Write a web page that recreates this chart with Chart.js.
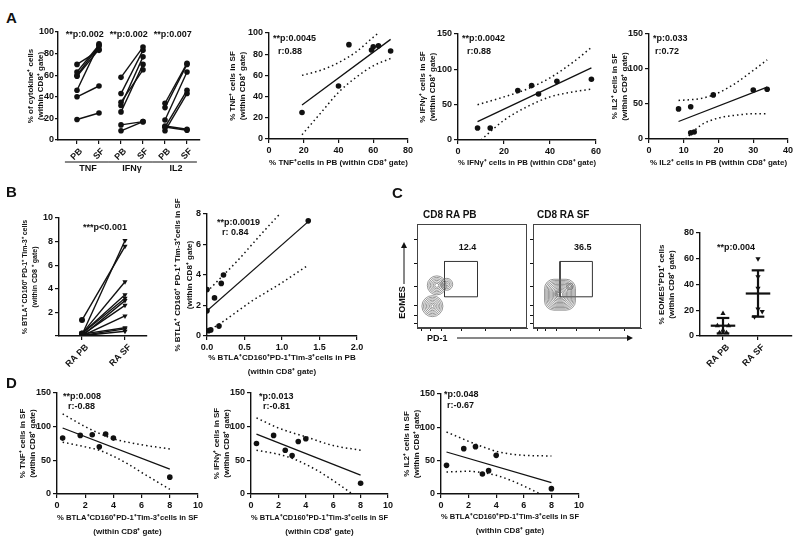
<!DOCTYPE html>
<html>
<head>
<meta charset="utf-8">
<script src="https://cdn.jsdelivr.net/npm/chart.js@4.4.1/dist/chart.umd.min.js"></script>
<style>
  body { margin: 0; background: #fff; width: 800px; height: 545px; position: relative; overflow: hidden;
         font-family: "Liberation Sans", Arial, sans-serif; color: #111; }
  canvas { position: absolute; }
  .t { position: absolute; font-weight: bold; white-space: nowrap; line-height: 1; }
  .big { font-size: 15px; }
  svg { position: absolute; left: 0; top: 0; }
</style>
</head>
<body>
<canvas id="a1"></canvas><canvas id="a2"></canvas><canvas id="a3"></canvas><canvas id="a4"></canvas>
<canvas id="b1"></canvas><canvas id="b2"></canvas>
<canvas id="c1"></canvas><canvas id="c2"></canvas><canvas id="c3"></canvas>
<canvas id="d1"></canvas><canvas id="d2"></canvas><canvas id="d3"></canvas>

<div class="t big" style="left:6px;top:10px">A</div>
<div class="t big" style="left:6px;top:184px">B</div>
<div class="t big" style="left:392px;top:185px">C</div>
<div class="t big" style="left:6px;top:375px">D</div>
<div class="t" style="left:423px;top:210px;font-size:10px">CD8 RA PB</div>
<div class="t" style="left:537px;top:210px;font-size:10px">CD8 RA SF</div>
<div class="t" style="left:427px;top:334px;font-size:9px">PD-1</div>
<div class="t" style="left:386px;top:298px;font-size:9px;transform:rotate(-90deg)">EOMES</div>
<svg width="800" height="545">
  <line x1="404" y1="284" x2="404" y2="247" stroke="#111" stroke-width="1"/>
  <polygon points="401,248 407,248 404,242" fill="#111"/>
  <line x1="457" y1="338" x2="628" y2="338" stroke="#111" stroke-width="1"/>
  <polygon points="627,335 627,341 633,338" fill="#111"/>
</svg>

<script>
// ---------- A: cytokines, PB vs SF (paired) ----------
const tnfPB = [70, 63, 60, 59, 46, 40, 19];
const tnfSF = [83, 88, 87, 84, 89, 50, 25];
const ifnPB = [58, 43, 35, 32, 26, 14, 8.5];
const ifnSF = [86, 83, 65, 77, 70, 17, 17];
const il2PB = [34, 30, 18.5, 13, 12, 12, 8.5];
const il2SF = [71, 70, 63, 10, 9, 46, 43];
const pairTicks = ["PB", "SF", "PB", "SF", "PB", "SF"];
const cytokines = ["TNF", "IFNγ", "IL2"];
const pairP = ["**p:0.002", "**p:0.002", "**p:0.007"];

// regression line and 95% band
const tnfFit = [[19, 32], [70, 94]];
const tnfUp = [[19, 60], [30, 65], [40, 72], [50, 82], [60, 96], [63, 100]];
const tnfLo = [[19, 4], [30, 25], [40, 44], [50, 58], [60, 69], [70, 76]];
const ifnFit = [[8.5, 26], [58, 102]];
const ifnUp = [[8.5, 50], [20, 61], [30, 72], [40, 88], [50, 110], [58, 131]];
const ifnLo = [[10, 0], [20, 28], [30, 47], [40, 61], [50, 68], [58, 72]];
const il2Fit = [[8.5, 25], [34, 74]];
const il2Up = [[8.5, 55], [15, 58], [20, 66], [25, 80], [30, 98], [34, 113]];
const il2Lo = [[10.5, 0], [15, 20], [20, 30], [25, 34], [30, 36], [34, 36]];

// ---------- B: BTLA+CD160+PD-1+Tim-3+ ----------
const btlaPB = [1.35, 0.1, 0.2, 0.22, 0.19, 0.0, 0.1, 0.0, 0.16, 0.05, 0.02];
const btlaSF = [7.6, 8.1, 4.6, 3.5, 3.2, 3.0, 2.6, 1.7, 0.7, 0.6, 0.4];
const raTicks = ["RA PB", "RA SF"];
const corrPB = [0.0, 0.0, 0.02, 0.05, 0.1, 0.16, 0.19, 0.22, 1.35];
const corrSF = [3.05, 1.65, 0.35, 0.4, 2.5, 0.65, 3.45, 4.0, 7.55];
const btlaFit = [[0, 1.65], [1.35, 7.5]];
const btlaUp = [[0, 2.9], [0.2, 3.9], [0.4, 4.9], [0.6, 6.0], [0.8, 7.1], [0.97, 8.0]];
const btlaLo = [[0, 0.3], [0.2, 0.9], [0.4, 1.6], [0.6, 2.3], [0.8, 2.9], [1.0, 3.5], [1.35, 4.65]];

// ---------- C: EOMES+PD1+ ----------
const eomesPB = [17.5, 8, 8, 4.5, 2.5, 2.5];
const eomesPBx = [0, -0.16, 0.16, 0, -0.1, 0.1];
const eomesSF = [60, 46, 37, 21, 19, 15];
const eomesSFx = [0, 0, 0, 0, 0.12, -0.1];
const eomesMean = [8, 33];
const eomesSD = [6, 18];
const gatePB = 12.4, gateSF = 36.5;
const gateBox = [[25, 30], [55, 30], [55, 64], [25, 64], [25, 30]];
// contour rings of the flow plots: centre (display units 0-100) and radius
const pbRingX = [14, 14, 14, 14, 14, 14, 14, 18, 18, 18, 18, 18, 18, 27, 27, 27, 27];
const pbRingY = [21, 21, 21, 21, 21, 21, 21, 41, 41, 41, 41, 41, 41, 42, 42, 42, 42];
const pbRingR = [1.5, 3, 4.5, 6, 7.5, 9, 10.5, 2, 3.5, 5, 6.5, 8, 9.5, 1.5, 3, 4.5, 6];
const sfRingX = [25, 25, 25, 25, 25, 25, 25, 25, 25, 25, 25, 23, 23, 34, 34];
const sfRingY = [32, 32, 32, 32, 32, 32, 32, 32, 32, 32, 32, 33, 33, 40, 40];
const sfRingR = [3, 4.5, 6, 7.5, 9, 10.5, 12, 13.5, 15, 16.5, 18, 1.5, 3, 2, 3.5];
const flowTicks = [4, 12, 22, 40, 62, 85];

// ---------- D: correlations with BTLA+... in SF ----------
const dX = [0.4, 1.65, 2.5, 3.0, 3.45, 4.0, 8.0];
const dTNF = [83, 87, 88, 70, 89, 83, 25];
const dIFN = [75, 87, 65, 57, 78, 82, 16];
const dIL2 = [43, 68, 71, 30, 35, 58, 8];
const dTnfFit = [[0.4, 98], [8, 37]];
const dTnfUp = [[0.4, 119], [2, 100], [3, 90], [4, 82], [5, 77], [6, 73], [8, 67]];
const dTnfLo = [[0.4, 77], [2, 70], [3, 65], [4, 56], [5, 45], [6, 32], [8, 7]];
const dIfnFit = [[0.4, 89], [8, 28]];
const dIfnUp = [[0.4, 113], [2, 98], [3, 91], [4, 85], [5, 78], [6, 72], [8, 65]];
const dIfnLo = [[0.4, 65], [2, 59], [3, 53], [4, 44], [5, 33], [6, 20], [7.4, 0]];
const dIl2Fit = [[0.4, 63], [8, 17]];
const dIl2Up = [[0.4, 93], [2, 79], [3, 71], [4, 64], [5, 60], [6, 58], [8, 57]];
const dIl2Lo = [[0.4, 33], [2, 34], [3, 32], [4, 28], [5, 21], [6, 12], [7.2, 0]];

const FONT = '"Liberation Sans", Arial, sans-serif';
Chart.defaults.font.family = FONT;
Chart.defaults.font.size = 9;
Chart.defaults.font.weight = 'bold';
Chart.defaults.color = '#111';
Chart.defaults.animation = false;
Chart.defaults.plugins.legend.display = false;
Chart.defaults.plugins.tooltip.enabled = false;

// text / rules / frame drawn on top of a chart
Chart.register({
  id: 'notes',
  afterDraw(chart, args, opts) {
    const { ctx, chartArea: a, scales } = chart;
    ctx.save();
    (opts.items || []).forEach(it => {
      const Y = it.y != null ? scales.y.getPixelForValue(it.y) : (it.below ? a.bottom : a.top) + (it.py || 0);
      if (it.line) {
        ctx.strokeStyle = '#111'; ctx.lineWidth = 1;
        ctx.beginPath();
        ctx.moveTo(scales.x.getPixelForValue(it.line[0]), Y);
        ctx.lineTo(scales.x.getPixelForValue(it.line[1]), Y);
        ctx.stroke();
        return;
      }
      const X = it.x != null ? scales.x.getPixelForValue(it.x) : a.left + (it.px || 0);
      ctx.font = `bold ${it.size || 9}px ${FONT}`;
      ctx.fillStyle = '#111';
      ctx.textAlign = it.align || 'left';
      ctx.textBaseline = 'middle';
      ctx.fillText(it.t, X, Y);
    });
    if (opts.frame) {
      ctx.strokeStyle = '#444'; ctx.lineWidth = 1;
      ctx.strokeRect(a.left + 0.5, a.top + 0.5, a.width - 1, a.height - 1);
    }
    ctx.restore();
  }
});

function axis(min, max, step, title, tt) {
  tt = tt || {};
  return {
    type: 'linear', min, max,
    ticks: { stepSize: step, padding: 2, color: '#111', font: { size: 9, weight: 'bold' } },
    grid: { drawOnChartArea: false, color: '#111', tickLength: 4, lineWidth: 1.2 },
    border: { color: '#111', width: 1.4 },
    title: {
      display: !!title, text: title, color: '#111', align: tt.align || 'center',
      font: { size: tt.size || 8, weight: 'bold', lineHeight: tt.lh || 1.25 },
      padding: { top: tt.pad || 0, bottom: tt.pad || 0 }
    }
  };
}

function catAxis(min, max, labels, shift) {
  const s = axis(min, max, 1);
  s.afterBuildTicks = sc => { sc.ticks = labels.map((l, i) => ({ value: i })); };
  s.ticks.callback = v => labels[v];
  s.ticks.minRotation = 45; s.ticks.maxRotation = 45;
  s.ticks.autoSkip = false; s.ticks.labelOffset = shift;
  return s;
}

const pts = (xs, ys) => xs.map((x, i) => ({ x, y: ys[i] }));
const xy = arr => arr.map(p => ({ x: p[0], y: p[1] }));

function dots(xs, ys) {
  return { data: pts(xs, ys), pointRadius: 2.8, pointBackgroundColor: '#111', pointBorderWidth: 0 };
}
function fitLine(arr) {
  return { data: xy(arr), showLine: true, borderColor: '#111', borderWidth: 1.3, pointRadius: 0 };
}
function band(arr) {
  return { data: xy(arr), showLine: true, borderColor: '#111', borderWidth: 1.5, borderDash: [1.5, 3],
           cubicInterpolationMode: 'monotone', pointRadius: 0 };
}

// box = plot area [l, t, r, b] on the page, m = margins [left, top, right, bottom]
function draw(id, box, m, cfg) {
  const c = document.getElementById(id);
  const w = box[2] - box[0] + m[0] + m[2], h = box[3] - box[1] + m[1] + m[3];
  Object.assign(c.style, { left: (box[0] - m[0]) + 'px', top: (box[1] - m[1]) + 'px', width: w + 'px', height: h + 'px' });
  c.width = w; c.height = h;
  const o = cfg.options;
  o.scales.x.afterFit = s => { s.height = m[3]; };
  o.scales.y.afterFit = s => { s.width = m[0]; };
  o.layout = { padding: { top: m[1], right: m[2], left: 0, bottom: 0 }, autoPadding: false };
  o.responsive = false;
  o.devicePixelRatio = 1;
  return new Chart(c, cfg);
}

function corrChart(id, box, m, xs, ys, fit, up, lo, xAx, yAx, notes) {
  draw(id, box, m, {
    type: 'scatter',
    data: { datasets: [dots(xs, ys), fitLine(fit), band(up), band(lo)] },
    options: {
      scales: { x: xAx, y: yAx },
      plugins: { notes: { items: notes } }
    }
  });
}

// ---- A1 paired cytokines ----
const pairSets = [];
[[tnfPB, tnfSF], [ifnPB, ifnSF], [il2PB, il2SF]].forEach((g, k) => {
  g[0].forEach((v, i) => pairSets.push({
    data: [{ x: 2 * k, y: v }, { x: 2 * k + 1, y: g[1][i] }], showLine: true,
    borderColor: '#111', borderWidth: 1.4, pointRadius: 2.8, pointBackgroundColor: '#111', pointBorderWidth: 0
  }));
});
const a1Notes = [];
cytokines.forEach((c, k) => {
  a1Notes.push({ line: [2 * k - 0.55, 2 * k + 1.45], below: true, py: 22 });
  a1Notes.push({ t: c, x: 2 * k + 0.5, below: true, py: 29, align: 'center' });
  a1Notes.push({ t: pairP[k], x: 2 * k + 0.35, py: 3, align: 'center' });
});
const a1y = axis(0, 100, 20, ['% of cytokine⁺ cells', '(within CD8⁺ gate)'], { pad: 0 });
a1y.ticks.padding = 1;
a1y.grid.tickLength = 3;
draw('a1', [58, 32, 200, 140], [32, 10, 8, 40], {
  type: 'scatter',
  data: { datasets: pairSets },
  options: {
    scales: { x: catAxis(-0.864, 5.591, pairTicks, 4), y: a1y },
    plugins: { notes: { items: a1Notes } }
  }
});

corrChart('a2', [269, 33, 408, 139], [45, 10, 12, 30], tnfPB, tnfSF, tnfFit, tnfUp, tnfLo,
  axis(0, 80, 20, '% TNF⁺cells in PB (within CD8⁺ gate)', { pad: 1 }),
  axis(0, 100, 20, ['% TNF⁺ cells in SF', '(within CD8⁺ gate)'], { pad: 4 }),
  [{ t: '**p:0.0045', px: 4, py: 6 }, { t: 'r:0.88', px: 9, py: 19 }]);

corrChart('a3', [458, 34, 596, 140], [45, 10, 12, 29], ifnPB, ifnSF, ifnFit, ifnUp, ifnLo,
  axis(0, 60, 20, '% IFNγ⁺ cells in PB (within CD8⁺ gate)', { pad: 1 }),
  axis(0, 150, 50, ['% IFNγ⁺ cells in SF', '(within CD8⁺ gate)'], { pad: 5 }),
  [{ t: '**p:0.0042', px: 4, py: 5 }, { t: 'r:0.88', px: 9, py: 18 }]);

corrChart('a4', [649, 34, 788, 139], [45, 10, 12, 30], il2PB, il2SF, il2Fit, il2Up, il2Lo,
  axis(0, 40, 10, '% IL2⁺ cells in PB (within CD8⁺ gate)', { pad: 1 }),
  axis(0, 150, 50, ['% IL2⁺ cells in SF', '(within CD8⁺ gate)'], { pad: 6 }),
  [{ t: '*p:0.033', px: 4, py: 5 }, { t: 'r:0.72', px: 6, py: 18 }]);

// ---- B1 paired ----
const b1Sets = btlaPB.map((v, i) => ({
  data: [{ x: 0, y: v }, { x: 1, y: btlaSF[i] }], showLine: true,
  borderColor: '#111', borderWidth: 1.4, pointRadius: 3, pointBackgroundColor: '#111', pointBorderWidth: 0,
  pointStyle: ['circle', 'triangle'], pointRotation: [0, 180]
}));
const b1y = axis(0, 10, 2, ['% BTLA⁺ CD160⁺ PD-1⁺ Tim-3⁺ cells', '(within CD8 ⁺ gate)'], { pad: 5, size: 7, lh: 1.45 });
b1y.ticks.callback = v => (v === 0 ? '' : v);
draw('b1', [59, 218, 147, 336], [44, 10, 10, 32], {
  type: 'scatter',
  data: { datasets: b1Sets },
  options: {
    scales: { x: catAxis(-0.535, 1.512, raTicks, 5), y: b1y },
    plugins: { notes: { items: [{ t: '***p<0.001', px: 46, py: 10, align: 'center' }] } }
  }
});

// ---- B2 correlation ----
const b2x = axis(0, 2, 0.5, ['% BTLA⁺CD160⁺PD-1⁺Tim-3⁺cells in PB', '(within CD8⁺ gate)'], { pad: 2, lh: 1.8 });
b2x.ticks.callback = v => v.toFixed(1);
corrChart('b2', [207, 214, 357, 336], [37, 26, 12, 45], corrPB, corrSF, btlaFit, btlaUp, btlaLo, b2x,
  axis(0, 8, 2, ['% BTLA⁺ CD160⁺ PD-1⁺ Tim-3⁺cells in SF', '(within CD8⁺ gate)'], { pad: 2, lh: 1.5 }),
  [{ t: '**p:0.0019', px: 10, py: 9 }, { t: 'r: 0.84', px: 15, py: 19 }]);

// ---- C flow plots ----
function flowChart(id, box, rx, ry, rr, style, val) {
  const fx = axis(0, 100, 10), fy = axis(0, 100, 10);
  [fx, fy].forEach(s => {
    s.ticks.display = false;
    s.grid.tickLength = 3; s.grid.lineWidth = 1; s.border.color = '#444'; s.border.width = 1;
    s.afterBuildTicks = sc => { sc.ticks = flowTicks.map(v => ({ value: v })); };
  });
  draw(id, box, [4, 2, 2, 4], {
    type: 'scatter',
    data: {
      datasets: [
        { data: pts(rx, ry), pointRadius: rr, pointStyle: style, pointBackgroundColor: 'rgba(0,0,0,0)',
          pointBorderColor: '#6a6a6a', pointBorderWidth: 0.7 },
        { data: xy(gateBox), showLine: true, borderColor: '#333', borderWidth: 1, pointRadius: 0 }
      ]
    },
    options: {
      scales: { x: fx, y: fy },
      plugins: { notes: { frame: true, items: [{ t: String(val), x: 46, y: 77, align: 'center', size: 9 }] } }
    }
  });
}
flowChart('c1', [417, 224, 527, 328], pbRingX, pbRingY, pbRingR, 'circle', gatePB);
flowChart('c2', [533, 224, 641, 328], sfRingX, sfRingY, sfRingR, 'rectRounded', gateSF);

// ---- C3 EOMES+PD1+ dot plot with mean ± SD ----
const c3Sets = [
  { data: pts(eomesPBx, eomesPB), pointStyle: 'triangle', pointRadius: 3, pointBackgroundColor: '#111', pointBorderWidth: 0 },
  { data: pts(eomesSFx.map(v => v + 1), eomesSF), pointStyle: 'triangle', pointRotation: 180, pointRadius: 3,
    pointBackgroundColor: '#111', pointBorderWidth: 0 }
];
eomesMean.forEach((mu, k) => {
  const sd = eomesSD[k];
  [[[k - 0.35, mu], [k + 0.35, mu]], [[k, mu - sd], [k, mu + sd]],
   [[k - 0.18, mu + sd], [k + 0.18, mu + sd]], [[k - 0.18, mu - sd], [k + 0.18, mu - sd]]].forEach(seg =>
    c3Sets.push({ data: xy(seg), showLine: true, borderColor: '#111', borderWidth: 2.2, pointRadius: 0 }));
});
draw('c3', [700, 233, 792, 336], [44, 10, 6, 32], {
  type: 'scatter',
  data: { datasets: c3Sets },
  options: {
    scales: {
      x: catAxis(-0.657, 1.971, raTicks, 5),
      y: axis(0, 80, 20, ['% EOMES⁺PD1⁺ cells', '(within CD8⁺ gate)'], { pad: 1 })
    },
    plugins: { notes: { items: [{ t: '**p:0.004', px: 36, py: 15, align: 'center' }] } }
  }
});

// ---- D correlations ----
const dXTitle = ['% BTLA⁺CD160⁺PD-1⁺Tim-3⁺cells in SF', '(within CD8⁺ gate)'];
const dxAx = () => axis(0, 10, 2, dXTitle, { pad: 1, lh: 1.75 });
corrChart('d1', [57, 393, 198, 494], [44, 10, 12, 46], dX, dTNF, dTnfFit, dTnfUp, dTnfLo, dxAx(),
  axis(0, 150, 50, ['% TNF⁺ cells in SF', '(within CD8⁺ gate)'], { pad: 5 }),
  [{ t: '**p:0.008', px: 6, py: 4 }, { t: 'r:-0.88', px: 11, py: 14 }]);
corrChart('d2', [251, 393, 388, 494], [44, 10, 12, 46], dX, dIFN, dIfnFit, dIfnUp, dIfnLo, dxAx(),
  axis(0, 150, 50, ['% IFNγ⁺ cells in SF', '(within CD8⁺ gate)'], { pad: 5 }),
  [{ t: '*p:0.013', px: 8, py: 4 }, { t: 'r:-0.81', px: 12, py: 14 }]);
corrChart('d3', [441, 394, 579, 494], [44, 10, 12, 45], dX, dIL2, dIl2Fit, dIl2Up, dIl2Lo, dxAx(),
  axis(0, 150, 50, ['% IL2⁺ cells in SF', '(within CD8⁺ gate)'], { pad: 5 }),
  [{ t: '*p:0.048', px: 3, py: 1 }, { t: 'r:-0.67', px: 6, py: 12 }]);
</script>
</body>
</html>
